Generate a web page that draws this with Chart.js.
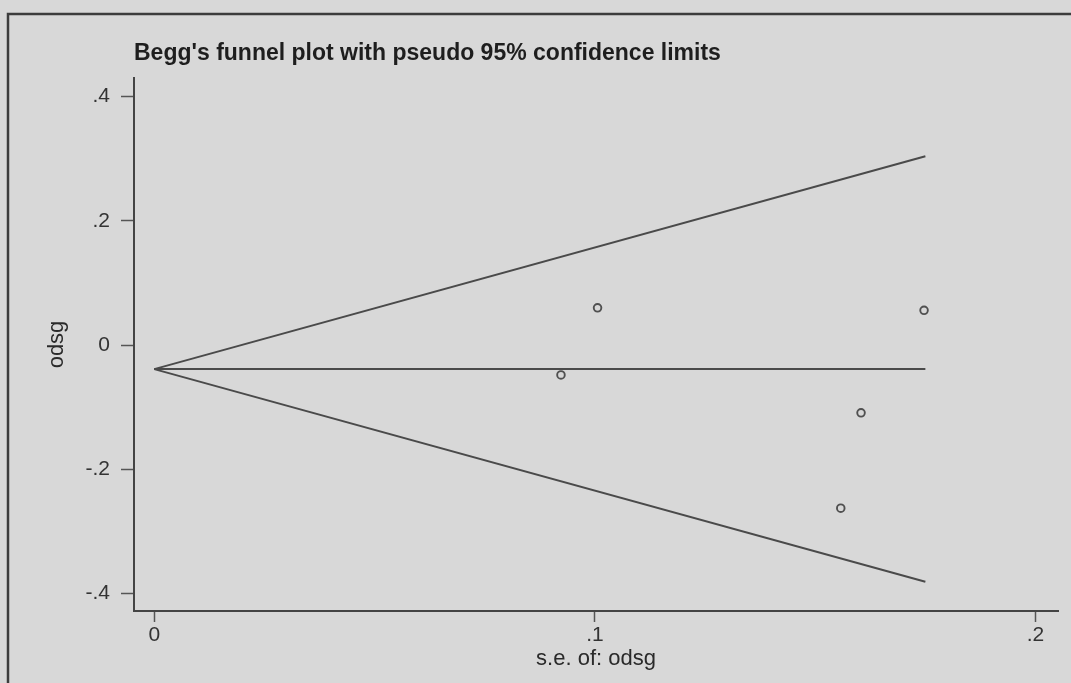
<!DOCTYPE html>
<html>
<head>
<meta charset="utf-8">
<title>Begg's funnel plot</title>
<script src="https://cdn.jsdelivr.net/npm/chart.js@4.4.1/dist/chart.umd.min.js"></script>
<style>
  html, body { margin: 0; padding: 0; background: #d8d8d8; }
  canvas { display: block; }
</style>
</head>
<body>
<canvas id="funnel" width="1071" height="683"></canvas>
<script>
// study points: standard error vs effect (odsg)
const studySE = [0.0923, 0.1006, 0.1747, 0.1604, 0.1558];
const studyES = [-0.048, 0.060, 0.056, -0.109, -0.2625];

// funnel lines (pooled estimate and pseudo 95% limits)
const lineSE = [0, 0.175];
const pooledLine = [-0.0386, -0.0386];
const upperLimit = [-0.0386, 0.304];
const lowerLimit = [-0.0386, -0.381];

const xTicks = [0, 0.1, 0.2];
const xTickLabels = ['0', '.1', '.2'];
const yTicks = [-0.4, -0.2, 0, 0.2, 0.4];
const yTickLabels = ['-.4', '-.2', '0', '.2', '.4'];

const FONT = '"Liberation Sans", Arial, Helvetica, sans-serif';

function pairs(xs, ys) {
    return xs.map((x, i) => ({ x: x, y: ys[i] }));
}

function lineSet(ys) {
    return {
        data: pairs(lineSE, ys),
        showLine: true,
        borderColor: '#4a4a4a',
        borderWidth: 2,
        pointRadius: 0,
        fill: false
    };
}

// grey page with the Stata style frame
const framePlugin = {
    id: 'frame',
    beforeDraw(chart) {
        const ctx = chart.ctx;
        ctx.save();
        ctx.fillStyle = '#d8d8d8';
        ctx.fillRect(0, 0, chart.width, chart.height);
        ctx.strokeStyle = '#3c3c3c';
        ctx.lineWidth = 2.5;
        ctx.beginPath();
        ctx.moveTo(8, chart.height);
        ctx.lineTo(8, 14);
        ctx.lineTo(chart.width, 14);
        ctx.stroke();
        ctx.restore();
    }
};

new Chart(document.getElementById('funnel'), {
    type: 'scatter',
    data: {
        datasets: [
            lineSet(upperLimit),
            lineSet(pooledLine),
            lineSet(lowerLimit),
            {
                data: pairs(studySE, studyES),
                pointStyle: 'circle',
                pointRadius: 3.8,
                pointBorderWidth: 1.9,
                pointBorderColor: '#505050',
                pointBackgroundColor: 'rgba(0,0,0,0)'
            }
        ]
    },
    options: {
        responsive: false,
        animation: false,
        layout: { padding: { top: 40, right: 13, left: 0, bottom: 0 } },
        plugins: {
            legend: { display: false },
            tooltip: { enabled: false },
            title: {
                display: true,
                text: "Begg's funnel plot with pseudo 95% confidence limits",
                align: 'start',
                fullSize: false,
                color: '#1e1e1e',
                font: { family: FONT, size: 23, weight: 'bold' },
                padding: { top: 0, bottom: 10.4 }
            }
        },
        scales: {
            x: {
                type: 'linear',
                min: -0.0046,
                max: 0.2051,
                afterFit: (s) => { s.height = 72; },
                afterBuildTicks: (s) => { s.ticks = xTicks.map(v => ({ value: v })); },
                ticks: {
                    color: '#333333',
                    font: { family: FONT, size: 21 },
                    padding: 1,
                    maxRotation: 0,
                    callback: (v) => xTickLabels[xTicks.indexOf(v)]
                },
                grid: {
                    drawOnChartArea: false,
                    drawTicks: true,
                    tickLength: 11,
                    tickColor: '#555555',
                    tickWidth: 1.5
                },
                border: { display: true, color: '#444444', width: 2 },
                title: {
                    display: true,
                    text: 's.e. of: odsg',
                    color: '#2a2a2a',
                    font: { family: FONT, size: 22 },
                    padding: { top: 0, bottom: 10.8 }
                }
            },
            y: {
                type: 'linear',
                min: -0.428,
                max: 0.43,
                afterFit: (s) => { s.width = 134; },
                afterBuildTicks: (s) => { s.ticks = yTicks.map(v => ({ value: v })); },
                ticks: {
                    color: '#333333',
                    font: { family: FONT, size: 21 },
                    padding: 11,
                    callback: (v) => yTickLabels[yTicks.indexOf(v)]
                },
                grid: {
                    drawOnChartArea: false,
                    drawTicks: true,
                    tickLength: 13,
                    tickColor: '#555555',
                    tickWidth: 1.5
                },
                border: { display: true, color: '#444444', width: 2 },
                title: {
                    display: true,
                    text: 'odsg',
                    color: '#2a2a2a',
                    font: { family: FONT, size: 22 },
                    padding: { top: 44, bottom: 0 }
                }
            }
        }
    },
    plugins: [framePlugin]
});
</script>
</body>
</html>
